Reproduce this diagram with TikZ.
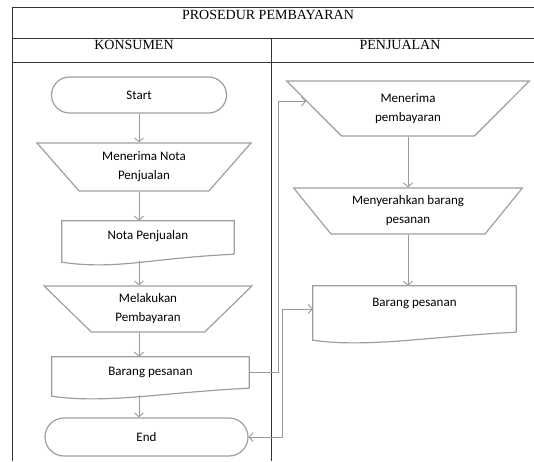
\documentclass[tikz,border=0pt]{standalone}
\usepackage{fontspec}
\setmainfont{Carlito}
\newfontfamily\judul{Liberation Serif}
\usetikzlibrary{shapes.geometric,shapes.misc,arrows.meta,calc}

\tikzset{
  garis/.style={draw=black!38, line width=1.2pt},
  panah/.style={draw=black!40, line width=0.9pt, -{Straight Barb[length=4pt,width=9pt]}},
  panahdua/.style={draw=black!40, line width=0.9pt, {Straight Barb[length=4pt,width=9pt]}-{Straight Barb[length=4pt,width=9pt]}},
  terminal/.style={rounded rectangle, garis, minimum height=36pt, inner sep=0pt},
  trap/.style={trapezium, trapezium angle=48, shape border rotate=180, trapezium stretches=true, garis, align=center, inner sep=0pt},
  dokumen/.style={inner xsep=0pt, inner ysep=0pt, text height=18pt},
  tabel/.style={draw=black!80, line width=0.9pt},
  kepala/.style={font=\judul\fontsize{14}{16}\selectfont},
}

\begin{document}
\begin{tikzpicture}[x=1pt, y=1pt, font=\fontsize{13}{19}\selectfont]
  \useasboundingbox (0,0) rectangle (534,-461);
  % tabel
  \draw[tabel] (534,-7) -- (12,-7) -- (12,-461);
  \draw[tabel] (12,-38) -- (534,-38);
  \draw[tabel] (12,-62) -- (534,-62);
  \draw[tabel] (271,-38) -- (271,-461);
  \node[kepala] (judul) at (268,-15) {PROSEDUR PEMBAYARAN};
  \node[kepala] (konsumen) at (134,-45) {KONSUMEN};
  \node[kepala] (penjualan) at (400,-45) {PENJUALAN};

  % konsumen
  \node[terminal, minimum width=175pt] (start) at (139,-95) {Start};
  \node[trap, minimum width=214pt, minimum height=48pt] (terimaNota) at (144,-167) {Menerima Nota\\Penjualan};
  \node[dokumen, minimum width=172pt, text depth=15pt] (nota) at (148,-237.5) {Nota Penjualan};
  \node[trap, minimum width=208pt, minimum height=46pt] (bayar) at (148,-309) {Melakukan\\Pembayaran};
  \node[dokumen, minimum width=197pt, text depth=13pt] (barangK) at (150.5,-372.5) {Barang pesanan};
  \node[terminal, minimum width=203pt, minimum height=38pt] (end) at (146.5,-437) {End};

  % penjualan
  \node[trap, minimum width=243pt, minimum height=55pt] (terimaBayar) at (408,-108.5) {Menerima\\pembayaran};
  \node[trap, minimum width=229pt, minimum height=46pt] (serah) at (408,-211) {Menyerahkan barang\\pesanan};
  \node[dokumen, minimum width=203pt, text height=20pt, text depth=26pt] (barangP) at (414.5,-309) {Barang pesanan};

  % bentuk dokumen
  \foreach \d in {nota,barangK,barangP}
    \draw[garis] (\d.south east) -- (\d.north east) -- (\d.north west) -- ($(\d.south west)+(0,-8)$)
      .. controls +(55,-8) and +(-85,-4) .. (\d.south east);

  % alur
  \draw[panah] (start.south) -- (start.south |- terimaNota.north);
  \draw[panah] (start.south |- terimaNota.south) -- (start.south |- nota.north);
  \draw[panah] ($(start.south |- nota.south)+(0,-7)$) -- (start.south |- bayar.north);
  \draw[panah] (start.south |- bayar.south) -- (start.south |- barangK.north);
  \draw[panah] ($(start.south |- barangK.south)+(0,-7)$) -- (start.south |- end.north);
  \draw[panah] (terimaBayar.south) -- (terimaBayar.south |- serah.north);
  \draw[panah] (serah.south) -- (serah.south |- barangP.north);
  \draw[panah] (barangK.east) -- ++(29,0) |- (terimaBayar.176);
  \draw[panahdua] (end.east) -- ++(34,0) |- (barangP.west);
\end{tikzpicture}
\end{document}
